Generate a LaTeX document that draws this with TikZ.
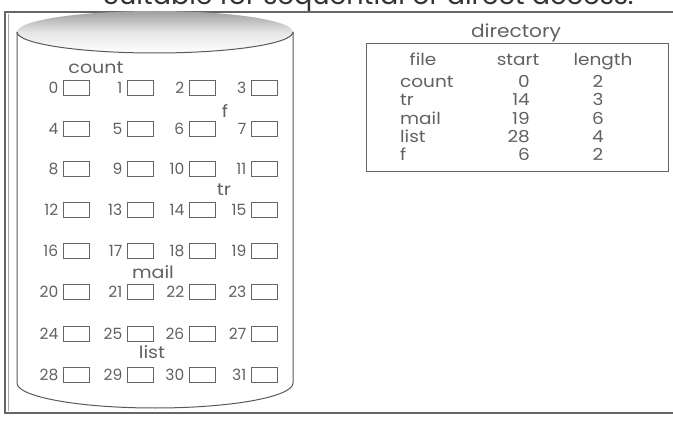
\documentclass[tikz,border=0pt]{standalone}
\usepackage{fontspec}
\setmainfont{Poppins}
\newfontfamily\widefont[FakeStretch=1.12]{Poppins}
\begin{document}
\begin{tikzpicture}[x=1pt,y=-1pt,
  lbl/.style={text=black!62, inner sep=0pt, font=\widefont\fontsize{17}{19}\selectfont},
  num/.style={text=black!62, inner sep=0pt, font=\fontsize{15.5}{17}\selectfont},
  tbl/.style={text=black!62, inner sep=0pt, font=\widefont\fontsize{16.5}{18}\selectfont},
  blk/.style={draw=black!60, line width=1pt, minimum width=26pt, minimum height=15pt, inner sep=0pt},
  cyl/.style={draw=black!65, line width=1pt},
  frame/.style={draw=black!60, line width=1.1pt}]
\clip (0,0) rectangle (673,425);
% title (cut off at top, as in the reference)
\node[anchor=base west, inner sep=0pt, text=black!80, font=\fontsize{27}{30}\selectfont] (title) at (103,5) {Suitable for sequential or direct access.};
% frame
\draw[frame] (673,12) -- (5,12) -- (5,413) -- (673,413);
\draw[black!35, line width=0.6pt] (8,14) -- (8,411);
% cylinder
\shade[top color=black!38, bottom color=white, middle color=black!10] (155,32) ellipse [x radius=138, y radius=21];
\draw[cyl] (17,32) -- (17,383) arc[start angle=180, end angle=0, x radius=138, y radius=25] -- (293,32);
\draw[cyl] (17,32) arc[start angle=180, end angle=0, x radius=138, y radius=21];
% blocks
\foreach \r/\y in {0/88,1/129,2/169,3/210,4/251,5/292,6/334,7/375}{
  \foreach \c/\x in {0/76,1/140,2/202,3/264}{
    \pgfmathtruncatemacro\k{4*\r+\c}
    \node[blk] (b\k) at (\x,\y) {};
    \node[num, anchor=east] (n\k) at ([xshift=-4pt]b\k.west) {\k};
  }
}
% file labels on disk
\node[lbl] (lcount) at (96,68) {count};
\node[lbl] (lf) at (225,111) {f};
\node[lbl] (ltr) at (224,190) {tr};
\node[lbl] (lmail) at (153,272) {mail};
\node[lbl] (llist) at (152,352) {list};
% directory
\node[tbl, font=\widefont\fontsize{18}{20}\selectfont] (dirt) at (516,33) {directory};
\draw[frame, line width=1pt] (366,44) rectangle (668,172);
\node[tbl, anchor=base] (hfile) at (423,65.5) {file};
\node[tbl, anchor=base] (hstart) at (518,65.5) {start};
\node[tbl, anchor=base] (hlen) at (603,65.5) {length};
\foreach \i/\n/\s/\l/\yy in {1/count/0/2/88,2/tr/14/3/106,3/mail/19/6/124.5,4/list/28/4/143,5/f/6/2/161}{
  \node[tbl, anchor=base west] (dn\i) at (400,\yy) {\n};
  \node[tbl, anchor=base east] (ds\i) at (530,\yy) {\s};
  \node[tbl, anchor=base] (dl\i) at (598,\yy) {\l};
}
\end{tikzpicture}
\end{document}
